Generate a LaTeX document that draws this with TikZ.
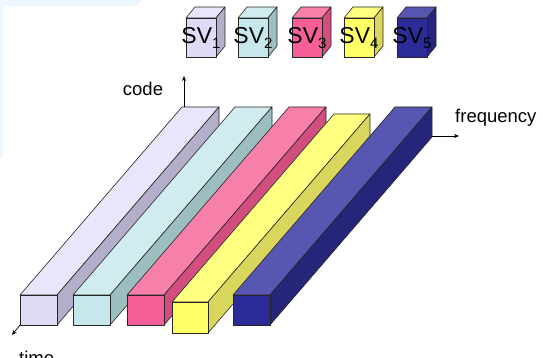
\documentclass[tikz,border=0pt]{standalone}
\usepackage{fontspec}
\setmainfont{Liberation Sans}
\usepackage{xcolor}
\usepackage{tikz}
\usetikzlibrary{arrows.meta}

\definecolor{paneblue}{HTML}{EEF6FE}
\definecolor{lavfront}{HTML}{DFDBF7}
\definecolor{lavtop}{HTML}{E9E6FB}
\definecolor{lavside}{HTML}{B3AFCB}
\definecolor{cyanfront}{HTML}{C6E7EB}
\definecolor{cyantop}{HTML}{D1ECEF}
\definecolor{cyanside}{HTML}{9CBEC0}
\definecolor{pinkfront}{HTML}{F55E97}
\definecolor{pinktop}{HTML}{F780AA}
\definecolor{pinkside}{HTML}{D24E7F}
\definecolor{yelfront}{HTML}{FFFF66}
\definecolor{yeltop}{HTML}{FFFF80}
\definecolor{yelside}{HTML}{D9D65E}
\definecolor{bluefront}{HTML}{2C2C98}
\definecolor{bluetop}{HTML}{5757B1}
\definecolor{blueside}{HTML}{25257A}

\newcommand{\svsub}[1]{\raisebox{-5pt}{\fontsize{15}{15}\selectfont #1}}

\begin{document}
\begin{tikzpicture}[x=1pt, y=-1pt,
    face/.style={draw=black!85, line width=0.6pt, line join=round},
    axis/.style={black, line width=0.7pt, -{Stealth[length=5pt, width=4pt]}},
    axislabel/.style={font=\fontsize{18.5}{20}\selectfont, inner sep=0pt},
    svlabel/.style={font=\fontsize{23}{24}\selectfont, inner sep=0pt, anchor=base}]
  \useasboundingbox (0,0) rectangle (543,358);
  % faint pane edge in the corner
  \fill[paneblue] (0,0) -- (142,0) -- (136,6) -- (3,6) -- (3,158) -- (0,158) -- cycle;

  % satellite vehicle blocks
  \filldraw[face, fill=lavtop] (186,18) -- ++(30,0) -- ++(9,-11) -- ++(-30,0) -- cycle;
  \filldraw[face, fill=lavside] (216,18) -- ++(9,-11) -- ++(0,39) -- ++(-9,11) -- cycle;
  \filldraw[face, fill=lavfront] (186,18) rectangle ++(30,39);
  \filldraw[face, fill=cyantop] (238,18) -- ++(30,0) -- ++(9,-11) -- ++(-30,0) -- cycle;
  \filldraw[face, fill=cyanside] (268,18) -- ++(9,-11) -- ++(0,39) -- ++(-9,11) -- cycle;
  \filldraw[face, fill=cyanfront] (238,18) rectangle ++(30,39);
  \filldraw[face, fill=pinktop] (292,18) -- ++(30,0) -- ++(9,-11) -- ++(-30,0) -- cycle;
  \filldraw[face, fill=pinkside] (322,18) -- ++(9,-11) -- ++(0,39) -- ++(-9,11) -- cycle;
  \filldraw[face, fill=pinkfront] (292,18) rectangle ++(30,39);
  \filldraw[face, fill=yeltop] (344,18) -- ++(30,0) -- ++(9,-11) -- ++(-30,0) -- cycle;
  \filldraw[face, fill=yelside] (374,18) -- ++(9,-11) -- ++(0,39) -- ++(-9,11) -- cycle;
  \filldraw[face, fill=yelfront] (344,18) rectangle ++(30,39);
  \filldraw[face, fill=bluetop] (397,18) -- ++(30,0) -- ++(9,-11) -- ++(-30,0) -- cycle;
  \filldraw[face, fill=blueside] (427,18) -- ++(9,-11) -- ++(0,39) -- ++(-9,11) -- cycle;
  \filldraw[face, fill=bluefront] (397,18) rectangle ++(30,39);
  \node[svlabel] (sv1) at (201,44) {SV\svsub{1}};
  \node[svlabel] (sv2) at (253,44) {SV\svsub{2}};
  \node[svlabel] (sv3) at (307,44) {SV\svsub{3}};
  \node[svlabel] (sv4) at (359,44) {SV\svsub{4}};
  \node[svlabel] (sv5) at (412,44) {SV\svsub{5}};

  % channel beams, back to front
  \filldraw[face, fill=lavtop] (20,295) -- ++(37,0) -- ++(162,-188) -- ++(-37,0) -- cycle;
  \filldraw[face, fill=lavside] (57,295) -- ++(162,-188) -- ++(0,30) -- ++(-162,188) -- cycle;
  \filldraw[face, fill=lavfront] (20,295) rectangle ++(37,30);
  \filldraw[face, fill=cyantop] (73,295) -- ++(37,0) -- ++(162,-188) -- ++(-37,0) -- cycle;
  \filldraw[face, fill=cyanside] (110,295) -- ++(162,-188) -- ++(0,30) -- ++(-162,188) -- cycle;
  \filldraw[face, fill=cyanfront] (73,295) rectangle ++(37,30);
  \filldraw[face, fill=pinktop] (127,295) -- ++(37,0) -- ++(162,-188) -- ++(-37,0) -- cycle;
  \filldraw[face, fill=pinkside] (164,295) -- ++(162,-188) -- ++(0,30) -- ++(-162,188) -- cycle;
  \filldraw[face, fill=pinkfront] (127,295) rectangle ++(37,30);
  \filldraw[face, fill=yeltop] (172,302) -- ++(36,0) -- ++(162,-188) -- ++(-36,0) -- cycle;
  \filldraw[face, fill=yelside] (208,302) -- ++(162,-188) -- ++(0,31) -- ++(-162,188) -- cycle;
  \filldraw[face, fill=yelfront] (172,302) rectangle ++(36,31);
  \filldraw[face, fill=bluetop] (233,295) -- ++(37,0) -- ++(162,-188) -- ++(-37,0) -- cycle;
  \filldraw[face, fill=blueside] (270,295) -- ++(162,-188) -- ++(0,30) -- ++(-162,188) -- cycle;
  \filldraw[face, fill=bluefront] (233,295) rectangle ++(37,30);

  % axes
  \coordinate (codeorigin) at (184,107);
  \coordinate (codeend) at (184,76);
  \coordinate (freqorigin) at (432,136);
  \coordinate (freqend) at (459,136);
  \coordinate (timeorigin) at (20,325);
  \coordinate (timeend) at (12,335);
  \draw[axis] (codeorigin) -- (codeend);
  \draw[axis] (freqorigin) -- (freqend);
  \draw[axis] (timeorigin) -- (timeend);
  \node[axislabel] (code) at (143,89) {code};
  \node[axislabel, anchor=west] (frequency) at (455,118) {frequency};
  \node[axislabel, anchor=base west] (time) at (19,364) {time};
\end{tikzpicture}
\end{document}
